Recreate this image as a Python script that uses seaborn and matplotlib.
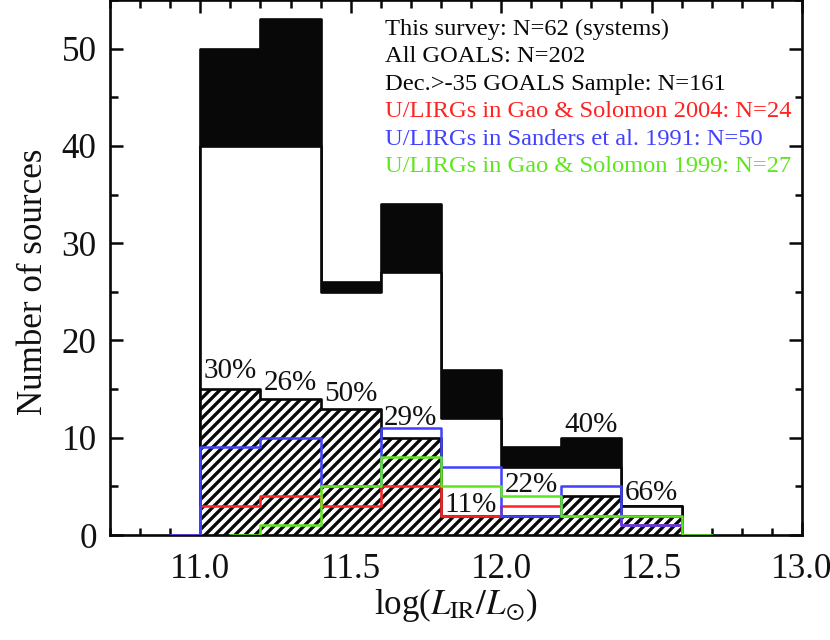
import math
import numpy as np
import pandas as pd
import matplotlib
matplotlib.use("Agg")
import matplotlib.pyplot as plt
from matplotlib.ticker import MultipleLocator, FixedLocator
import seaborn as sns

# ---------------- data ----------------
bin_edges = [11.0, 11.2, 11.4, 11.6, 11.8, 12.0, 12.2, 12.4, 12.6]
all_goals = [50, 53, 26, 34, 17, 9, 10, 3]          # All GOALS: N=202
dec_sample = [40, 40, 25, 27, 12, 7, 7, 3]          # Dec.>-35 GOALS sample: N=161
this_survey = [15, 14, 13, 10, 2, 2, 4, 2]          # This survey: N=62

gs04_edges = [10.9, 11.0, 11.2, 11.4, 11.6, 11.8, 12.0, 12.2, 12.4, 12.6]
gs04 = [0, 3, 4, 3, 5, 2, 3, 2, 1]                  # Gao & Solomon 2004
sanders_edges = [10.9, 11.0, 11.2, 11.4, 11.6, 11.8, 12.0, 12.2, 12.4, 12.6]
sanders = [0, 9, 10, 5, 11, 7, 2, 5, 1]             # Sanders et al. 1991
gs99_edges = [11.1, 11.2, 11.4, 11.6, 11.8, 12.0, 12.2, 12.4, 12.6, 12.7]
gs99 = [0, 1, 5, 8, 5, 4, 2, 2, 0]                  # Gao & Solomon 1999

legend_lines = [
    "This survey: N=62 (systems)",
    "All GOALS: N=202",
    "Dec.>-35 GOALS Sample: N=161",
    "U/LIRGs in Gao & Solomon 2004: N=24",
    "U/LIRGs in Sanders et al. 1991: N=50",
    "U/LIRGs in Gao & Solomon 1999: N=27",
]
x_ticks = [11.0, 11.5, 12.0, 12.5, 13.0]
x_tick_labels = ["11.0", "11.5", "12.0", "12.5", "13.0"]
y_ticks = [0, 10, 20, 30, 40, 50]

# layout only: baseline height of each percentage label
pct_label_y = [16.1, 14.9, 13.8, 11.3, 2.4, 4.4, 10.6, 3.6]

# ---------------- style ----------------
sns.set_theme(style="ticks")
plt.rcParams["font.family"] = ["Liberation Serif", "DejaVu Serif"]
plt.rcParams["mathtext.fontset"] = "stix"
plt.rcParams["hatch.linewidth"] = 2.0

RED = "#ff2222"
BLUE = "#4040ff"
GREEN = "#5ee61e"
BLACK = "#080808"

fig = plt.figure(figsize=(830 / 120, 640 / 120), dpi=120)
ax = fig.add_axes([110 / 830, 1 - 535 / 640, 692 / 830, 535 / 640])


def hist(edges, counts, **kw):
    e = [float(v) for v in edges]
    centers = [(e[i] + e[i + 1]) / 2 for i in range(len(e) - 1)]
    df = pd.DataFrame({"x": centers, "w": [float(c) for c in counts]})
    sns.histplot(data=df, x="x", weights="w", bins=e, element="step", ax=ax, **kw)


hist(bin_edges, all_goals, fill=True, facecolor=BLACK, edgecolor=BLACK,
     alpha=1, linewidth=1.6, zorder=1)
hist(bin_edges, dec_sample, fill=True, facecolor="white", edgecolor=BLACK,
     alpha=1, linewidth=1.6, zorder=2)
hist(bin_edges, this_survey, fill=True, facecolor="white", edgecolor=BLACK,
     alpha=1, linewidth=1.6, hatch="////", zorder=3)
hist(gs04_edges, gs04, fill=False, color=RED, linewidth=1.5, zorder=4)
hist(sanders_edges, sanders, fill=False, color=BLUE, linewidth=1.5, zorder=5)
hist(gs99_edges, gs99, fill=False, color=GREEN, linewidth=1.5, zorder=6)

# percentage labels (this survey / all GOALS, truncated)
centers = [(bin_edges[i] + bin_edges[i + 1]) / 2 for i in range(len(all_goals))]
for xc, s, a, yl in zip(centers, this_survey, all_goals, pct_label_y):
    pct = math.floor(100 * s / a + 1e-9)
    ax.text(xc, yl, f"{pct}%", ha="center", va="baseline", fontsize=17.5,
            color="#111111", zorder=10)

# legend text
leg_colors = [BLACK, BLACK, BLACK, RED, BLUE, GREEN]
for i, (t, c) in enumerate(zip(legend_lines, leg_colors)):
    ax.text(0.397, 0.9346 - i * 0.0514, t, transform=ax.transAxes,
            ha="left", va="baseline", fontsize=14.7, color=c, zorder=10)

# axes
ax.set_xlim(10.7, 13.0)
ax.set_ylim(0, 55)
ax.xaxis.set_major_locator(FixedLocator(x_ticks))
ax.set_xticklabels(x_tick_labels)
ax.xaxis.set_minor_locator(MultipleLocator(0.1))
ax.yaxis.set_major_locator(FixedLocator(y_ticks))
ax.yaxis.set_minor_locator(MultipleLocator(5))
ax.tick_params(which="both", direction="in", top=True, right=True,
               width=1.5, color=BLACK, labelsize=21, labelcolor="#111111")
ax.tick_params(which="major", length=8)
ax.tick_params(which="minor", length=4.5)
ax.tick_params(axis="x", which="major", pad=11)
ax.tick_params(axis="y", which="major", pad=8)
for sp in ax.spines.values():
    sp.set_linewidth(1.6)
    sp.set_color(BLACK)
    sp.set_visible(True)

ax.set_xlabel(r"log($L_{\rm IR}/L_{\odot}$)", fontsize=21, color="#111111")
ax.set_ylabel("Number of sources", fontsize=21, color="#111111")
ax.xaxis.set_label_coords(0.5, -0.095)
ax.yaxis.set_label_coords(-0.087, 0.473)

fig.savefig("out.png", dpi=120)
